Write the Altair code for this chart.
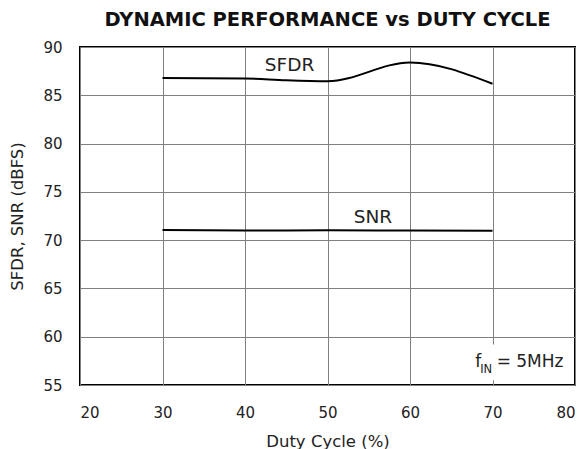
import altair as alt
import pandas as pd

duty = [30, 40, 45, 50, 60, 70]
sfdr = [86.8, 86.75, 86.55, 86.45, 88.4, 86.2]
duty_snr = [30, 40, 50, 60, 70]
snr = [71.05, 71.0, 71.02, 70.99, 70.97]

label_text = ["SFDR", "SNR"]
label_x = [45.4, 55.5]
label_y = [88.1, 72.4]

FONT = "DejaVu Sans"

df = pd.concat([
    pd.DataFrame({"duty": duty, "val": sfdr, "series": "SFDR"}),
    pd.DataFrame({"duty": duty_snr, "val": snr, "series": "SNR"}),
])
labels = pd.DataFrame({"t": label_text, "x": label_x, "y": label_y})

xs = alt.Scale(domain=[20, 80], nice=False)
ys = alt.Scale(domain=[55, 90], nice=False)

xaxis = alt.Axis(values=[20, 30, 40, 50, 60, 70, 80], grid=True, gridColor="#808080",
                 gridOpacity=1, gridWidth=1, domain=False, ticks=False,
                 labelFont=FONT, labelFontSize=15, labelColor="#222", labelPadding=20,
                 title="Duty Cycle (%)", titleFont=FONT, titleFontSize=16.5,
                 titleFontWeight="normal", titleColor="#222", titlePadding=13)
yaxis = alt.Axis(values=[55, 60, 65, 70, 75, 80, 85, 90], grid=True, gridColor="#808080",
                 gridOpacity=1, gridWidth=1, domain=False, ticks=False,
                 labelFont=FONT, labelFontSize=15, labelColor="#222", labelPadding=18,
                 title="SFDR, SNR (dBFS)", titleFont=FONT, titleFontSize=16.5,
                 titleFontWeight="normal", titleColor="#222", titlePadding=17)

lines = alt.Chart(df).mark_line(color="black", strokeWidth=2, interpolate="monotone").encode(
    x=alt.X("duty:Q", scale=xs, axis=xaxis),
    y=alt.Y("val:Q", scale=ys, axis=yaxis),
    detail="series:N",
)

lab = alt.Chart(labels).mark_text(font=FONT, fontSize=18.5, color="#222").encode(
    x=alt.X("x:Q", scale=xs), y=alt.Y("y:Q", scale=ys), text="t:N")

box = pd.DataFrame({"x": [67.6], "x2": [79.0], "y": [55.5], "y2": [59.2]})
white = alt.Chart(box).mark_rect(color="white").encode(
    x=alt.X("x:Q", scale=xs), x2="x2:Q", y=alt.Y("y:Q", scale=ys), y2="y2:Q")

ann = pd.DataFrame({"t": ["f", "IN", "= 5MHz"], "x": [67.9, 68.5, 70.5],
                    "y": [56.9, 56.25, 56.9], "s": [17, 11.5, 17]})
anntext = alt.Chart(ann).mark_text(font=FONT, color="#222", align="left", baseline="alphabetic").encode(
    x=alt.X("x:Q", scale=xs), y=alt.Y("y:Q", scale=ys), text="t:N",
    size=alt.Size("s:Q", scale=None, legend=None))

chart = alt.layer(lines, lab, white, anntext).properties(
    width=495, height=338,
    title=alt.TitleParams("DYNAMIC PERFORMANCE vs DUTY CYCLE", font=FONT, fontSize=19.5,
                          fontWeight="bold", color="#111", anchor="middle", offset=10),
    padding={"left": 72, "top": 39, "right": 4, "bottom": 80},
    autosize=alt.AutoSizeParams(type="none"),
).configure_view(stroke="black", strokeWidth=2)

chart.save("out.html", embed_options={"renderer": "svg", "actions": False})
